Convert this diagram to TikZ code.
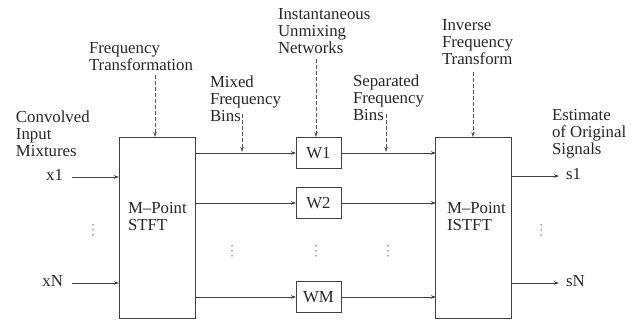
\documentclass[tikz,border=0pt]{standalone}
\usepackage{fontspec}
\setmainfont{Liberation Serif}
\usetikzlibrary{arrows.meta}
\begin{document}
\begin{tikzpicture}[x=1pt,y=-1pt,
  every node/.style={inner sep=0pt,outer sep=0pt,text=black!85},
  lbl/.style={anchor=base west,align=left,font=\fontsize{16.8}{17}\selectfont},
  blk/.style={draw=black!75,line width=0.8pt,minimum width=76pt,minimum height=181pt},
  wbox/.style={draw=black!75,line width=0.8pt,minimum width=45pt,minimum height=31pt,font=\fontsize{16.8}{17}\selectfont},
  sig/.style={draw=black!75,line width=0.7pt,-{Stealth[length=5pt,width=3.5pt]}},
  dsh/.style={draw=black!65,line width=0.7pt,dash pattern=on 4pt off 2pt,-{Stealth[length=5pt,width=3.5pt]}},
  dotc/.style={fill=black!70}]
\useasboundingbox (0,0) rectangle (641,320);
% main blocks
\node[blk] (stft) at (157,227.5) {};
\node[blk] (istft) at (473.5,227.5) {};
\node[lbl] (stftt) at (128,231) {M--Point\\STFT};
\node[lbl] (istftt) at (447,231) {M--Point\\ISTFT};
% W boxes
\node[wbox] (w1) at (318.5,153) {W1};
\node[wbox] (w2) at (318.5,203) {W2};
\node[wbox] (wm) at (318.5,297) {WM};
% connections
\coordinate (s1a) at (195,153); \coordinate (s1b) at (436,153);
\coordinate (s2a) at (195,203); \coordinate (s2b) at (436,203);
\coordinate (sma) at (195,297); \coordinate (smb) at (436,297);
\draw[sig] (s1a) -- (w1.west);
\draw[sig] (w1.east) -- (s1b);
\draw[sig] (s2a) -- (w2.west);
\draw[sig] (w2.east) -- (s2b);
\draw[sig] (sma) -- (wm.west);
\draw[sig] (wm.east) -- (smb);
% inputs
\node[lbl,anchor=base east] (x1) at (63,181) {x1};
\node[lbl,anchor=base east] (xn) at (63,287) {xN};
\coordinate (x1a) at (72,177); \coordinate (x1b) at (119,177);
\coordinate (xna) at (72,283); \coordinate (xnb) at (119,283);
\draw[sig] (x1a) -- (x1b);
\draw[sig] (xna) -- (xnb);
% outputs
\coordinate (o1a) at (511,176); \coordinate (o1b) at (559,176);
\coordinate (ona) at (511,283); \coordinate (onb) at (559,283);
\draw[sig] (o1a) -- (o1b);
\draw[sig] (ona) -- (onb);
\node[lbl] (s1) at (566,180) {s1};
\node[lbl] (sn) at (566,287) {sN};
% dots
\foreach \x/\y in {93/230,232/251,316/251,388/251,541/230}{
  \foreach \d in {-5,0,5}{\fill[dotc] (\x,\y+\d) circle (0.75pt);}
}
% labels
\node[lbl] (cim) at (16,157) {Convolved\\Input\\Mixtures};
\node[lbl] (ft) at (89,71) {Frequency\\Transformation};
\node[lbl] (mfb) at (210,122) {Mixed\\Frequency\\Bins};
\node[lbl] (iun) at (278,54) {Instantaneous\\Unmixing\\Networks};
\node[lbl] (sfb) at (353,121) {Separated\\Frequency\\Bins};
\node[lbl] (ift) at (442,65) {Inverse\\Frequency\\Transform};
\node[lbl] (eos) at (552,155) {Estimate\\of Original\\Signals};
% dashed arrows
\coordinate (fta) at (155,75); \coordinate (ftb) at (155,137);
\draw[dsh] (fta) -- (ftb);
\coordinate (mfa) at (242,114); \coordinate (mfb2) at (242,152);
\draw[dsh] (mfa) -- (mfb2);
\coordinate (iua) at (316,59); \coordinate (iub) at (316,137);
\draw[dsh] (iua) -- (iub);
\coordinate (sfa) at (386,114); \coordinate (sfb2) at (386,152);
\draw[dsh] (sfa) -- (sfb2);
\coordinate (ifa) at (473,72); \coordinate (ifb) at (473,137);
\draw[dsh] (ifa) -- (ifb);
\end{tikzpicture}
\end{document}
